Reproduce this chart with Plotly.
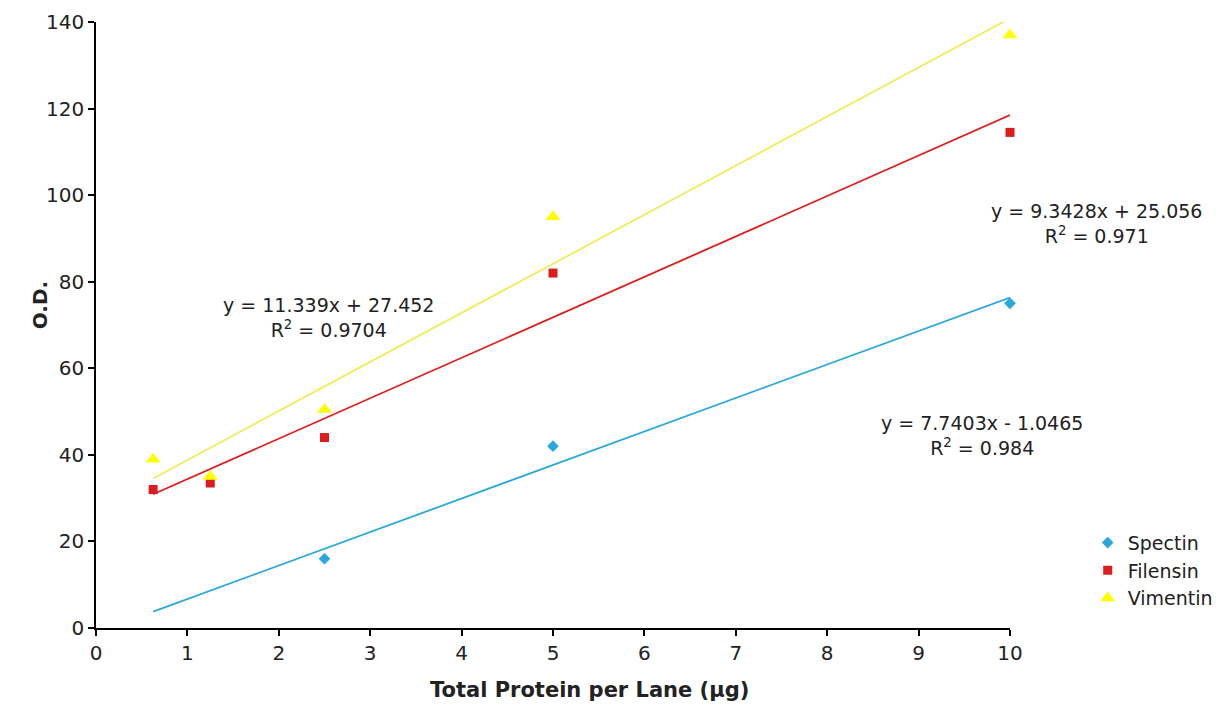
import plotly.graph_objects as go

# Data
protein = [0.625, 1.25, 2.5, 5, 10]
spectin_x = [2.5, 5, 10]
spectin_y = [16, 42, 75]
filensin_y = [32, 33.5, 44, 82, 114.5]
vimentin_y = [39, 35, 50.5, 95, 137]

# Trendline coefficients (slope, intercept) as shown on chart
spectin_fit = (7.7403, -1.0465)
filensin_fit = (9.3428, 25.056)
vimentin_fit = (11.339, 27.452)
fit_range = [0.625, 10]

eq_labels = {
    "Spectin": "y = 7.7403x - 1.0465<br>R<sup>2</sup> = 0.984",
    "Filensin": "y = 9.3428x + 25.056<br>R<sup>2</sup> = 0.971",
    "Vimentin": "y = 11.339x + 27.452<br>R<sup>2</sup> = 0.9704",
}

c_spec = "#2aa8dc"
c_fil = "#dd1c1c"
c_vim = "#ffff00"
c_vim_line = "#eded5a"

font = "DejaVu Sans, Verdana, sans-serif"
txt_col = "#222222"

fig = go.Figure()

def line(fit, color, name):
    xs = fit_range
    ys = [fit[0] * x + fit[1] for x in xs]
    fig.add_trace(go.Scatter(x=xs, y=ys, mode="lines", line=dict(color=color, width=1.8),
                             showlegend=False, hoverinfo="skip", name=name + " trend",
                             cliponaxis=False))

line(spectin_fit, c_spec, "Spectin")
line(filensin_fit, c_fil, "Filensin")
line(vimentin_fit, c_vim_line, "Vimentin")

fig.add_trace(go.Scatter(x=spectin_x, y=spectin_y, mode="markers", name="Spectin", cliponaxis=False,
                         marker=dict(symbol="diamond", size=9, color=c_spec)))
fig.add_trace(go.Scatter(x=protein, y=filensin_y, mode="markers", name="Filensin", cliponaxis=False,
                         marker=dict(symbol="square", size=9, color=c_fil)))
fig.add_trace(go.Scatter(x=protein, y=vimentin_y, mode="markers", name="Vimentin", cliponaxis=False,
                         marker=dict(symbol="triangle-up", size=13, color=c_vim)))

ann_font = dict(family=font, size=19, color=txt_col)
for txt, ax, ay in [(eq_labels["Vimentin"], 0.254, 0.512),
                    (eq_labels["Filensin"], 1.095, 0.668),
                    (eq_labels["Spectin"], 0.969, 0.318)]:
    fig.add_annotation(x=ax, y=ay, xref="paper", yref="paper", text=txt,
                       xanchor="center", yanchor="middle",
                       showarrow=False, font=ann_font, align="center")

# Axis titles
fig.add_annotation(x=0.54, y=-0.102, xref="paper", yref="paper",
                   xanchor="center", yanchor="middle",
                   text="<b>Total Protein per Lane (µg)</b>", showarrow=False,
                   font=dict(family=font, size=21, color=txt_col))
fig.add_annotation(x=-0.061, y=0.533, xref="paper", yref="paper", textangle=-90,
                   xanchor="center", yanchor="middle",
                   text="<b>O.D.</b>", showarrow=False,
                   font=dict(family=font, size=20, color=txt_col))

axis_common = dict(showgrid=False, zeroline=False, showline=True, linecolor="black", linewidth=1.5,
                   ticks="outside", ticklen=6, tickcolor="black", tickwidth=1.5, automargin=False,
                   tickfont=dict(family=font, size=20, color=txt_col))

fig.update_xaxes(range=[0, 10], dtick=1, tick0=0, **axis_common)
fig.update_yaxes(range=[0, 140], dtick=20, tick0=0, **axis_common)

fig.update_layout(
    width=1230, height=711,
    margin=dict(l=88, r=228, t=14, b=91),
    plot_bgcolor="white", paper_bgcolor="white",
    legend=dict(x=1.085, y=0.172, xanchor="left", yanchor="top",
                font=dict(family=font, size=19, color=txt_col), bgcolor="rgba(0,0,0,0)",
                tracegroupgap=0),
)

fig.write_html("out.html")
